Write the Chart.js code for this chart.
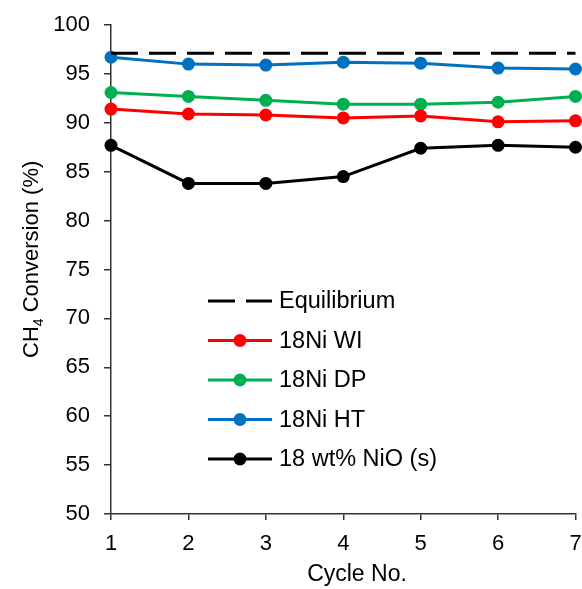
<!DOCTYPE html>
<html>
<head>
<meta charset="utf-8">
<script src="https://cdn.jsdelivr.net/npm/chart.js@4.4.0/dist/chart.umd.min.js"></script>
<style>
  html, body { margin: 0; padding: 0; background: #fff; }
  #wrap { width: 582px; height: 589px; }
</style>
</head>
<body>
<div id="wrap"><canvas id="conversionChart" width="582" height="589"></canvas></div>
<script>
// Chart data
const cycles = ['1', '2', '3', '4', '5', '6', '7'];
const equilibrium = [97.1, 97.1, 97.1, 97.1, 97.1, 97.1, 97.1];
const ni18WI = [91.4, 90.9, 90.8, 90.5, 90.7, 90.1, 90.2];
const ni18DP = [93.1, 92.7, 92.3, 91.9, 91.9, 92.1, 92.7];
const ni18HT = [96.7, 96.0, 95.9, 96.2, 96.1, 95.6, 95.5];
const nio18s = [87.7, 83.8, 83.8, 84.5, 87.4, 87.7, 87.5];
const yTicks = { min: 50, max: 100, step: 5 };

const FONT = '"Liberation Sans", Arial, sans-serif';

function series(label, data, color) {
    return {
        label: label,
        data: data,
        borderColor: color,
        backgroundColor: color,
        borderWidth: 3,
        pointRadius: 6.5,
        pointHoverRadius: 6.5,
        pointBorderWidth: 0,
        pointBackgroundColor: color,
        tension: 0,
        clip: false
    };
}

// legend drawn inside the plot, plus axis titles (y title needs a subscript)
const extrasPlugin = {
    id: 'extras',
    afterDraw(chart) {
        const ctx = chart.ctx;
        ctx.save();
        ctx.font = '23.5px ' + FONT;
        ctx.textBaseline = 'middle';
        ctx.fillStyle = '#000';

        chart.data.datasets.forEach((ds, i) => {
            const y = 301 + i * 39.5;
            ctx.strokeStyle = ds.borderColor;
            ctx.lineWidth = 3;
            ctx.setLineDash(ds.borderDash || []);
            ctx.beginPath();
            ctx.moveTo(208, y);
            ctx.lineTo(272, y);
            ctx.stroke();
            ctx.setLineDash([]);
            if (ds.pointRadius > 0) {
                ctx.fillStyle = ds.pointBackgroundColor;
                ctx.beginPath();
                ctx.arc(240, y, ds.pointRadius, 0, Math.PI * 2);
                ctx.fill();
            }
            ctx.fillStyle = '#000';
            ctx.textAlign = 'left';
            ctx.fillText(ds.label, 279, y + 1);
        });

        // x title
        ctx.font = '23px ' + FONT;
        ctx.textAlign = 'center';
        ctx.textBaseline = 'alphabetic';
        ctx.fillText('Cycle No.', 357, 581);

        // y title with subscript, anchored at its bottom end
        ctx.translate(38, 358);
        ctx.rotate(-Math.PI / 2);
        ctx.textAlign = 'left';
        let x = 0;
        ctx.font = '22px ' + FONT;
        ctx.fillText('CH', x, 0);
        x += ctx.measureText('CH').width;
        ctx.font = '14px ' + FONT;
        ctx.fillText('4', x, 5);
        x += ctx.measureText('4').width;
        ctx.font = '22px ' + FONT;
        ctx.fillText(' Conversion (%)', x, 0);
        ctx.restore();
    }
};

const ctx = document.getElementById('conversionChart').getContext('2d');
const conversionChart = new Chart(ctx, {
    type: 'line',
    data: {
        labels: cycles,
        datasets: [
            Object.assign(series('Equilibrium', equilibrium, '#000000'), {
                borderDash: [27, 11],
                pointRadius: 0,
                pointHoverRadius: 0
            }),
            series('18Ni WI', ni18WI, '#ff0000'),
            series('18Ni DP', ni18DP, '#00b050'),
            series('18Ni HT', ni18HT, '#0070c0'),
            series('18 wt% NiO (s)', nio18s, '#000000')
        ]
    },
    options: {
        responsive: false,
        animation: false,
        layout: { padding: { top: 25, right: 6, left: 0, bottom: 0 } },
        plugins: {
            legend: { display: false },
            tooltip: { enabled: false }
        },
        scales: {
            x: {
                type: 'category',
                offset: false,
                grid: { drawOnChartArea: false, drawTicks: true, tickLength: 6, color: '#333', lineWidth: 1.5 },
                border: { display: true, color: '#333', width: 1.5 },
                ticks: { color: '#000', font: { family: FONT, size: 22 }, padding: 11, maxRotation: 0, autoSkip: false },
                afterFit(scale) {
                    scale.height = 75;
                    scale.paddingLeft = 0;
                    scale.paddingRight = 0;
                }
            },
            y: {
                min: yTicks.min,
                max: yTicks.max,
                grid: { drawOnChartArea: false, drawTicks: true, tickLength: 7, color: '#333', lineWidth: 1.5 },
                border: { display: true, color: '#333', width: 1.5 },
                ticks: { stepSize: yTicks.step, color: '#000', font: { family: FONT, size: 22 }, padding: 14 },
                afterFit(scale) {
                    scale.width = 111;
                    scale.paddingTop = 0;
                    scale.paddingBottom = 0;
                }
            }
        }
    },
    plugins: [extrasPlugin]
});
</script>
</body>
</html>
